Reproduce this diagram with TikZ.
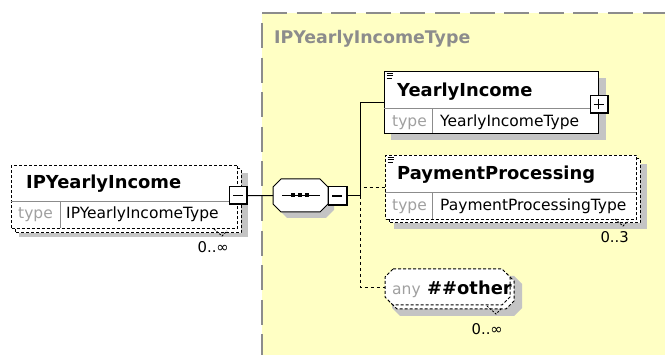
\documentclass[tikz,border=0pt]{standalone}
\usepackage{fontspec}
\setmainfont{DejaVu Sans}
\definecolor{bgyellow}{HTML}{FFFFC4}
\definecolor{framegrey}{HTML}{8C8C8C}
\definecolor{shadowgrey}{HTML}{C4C4C4}
\definecolor{typegrey}{HTML}{A0A0A0}
\definecolor{sepgrey}{HTML}{8C8C8C}
\newcommand\octo[5]{(#1+#5,#2) -- (#3-#5,#2) -- (#3,#2+#5) -- (#3,#4-#5) -- (#3-#5,#4) -- (#1+#5,#4) -- (#1,#4-#5) -- (#1,#2+#5) -- cycle}
\begin{document}
\begin{tikzpicture}[x=1pt,y=-1pt,
  dbox/.style={dash pattern=on 3pt off 2pt, line width=1pt},
  conn/.style={line width=1pt},
  dconn/.style={line width=1pt, dash pattern=on 3pt off 3pt},
  elbox/.style={draw, fill=white, inner sep=0pt, anchor=north west, line width=1pt},
  elname/.style={inner sep=0pt, anchor=base west, font=\bfseries\fontsize{17.9}{20}\selectfont},
  tlabel/.style={inner sep=0pt, anchor=base west, text=typegrey, font=\fontsize{15.5}{18}\selectfont},
  tname/.style={inner sep=0pt, anchor=base west, font=\fontsize{15.5}{18}\selectfont},
  multlbl/.style={inner sep=0pt, anchor=base east, font=\fontsize{14.8}{17}\selectfont},
  sepline/.style={draw=sepgrey, line width=1pt},
  pmbox/.style={draw, fill=white, line width=1pt, minimum size=17pt, inner sep=0pt},
  tick/.style={line width=0.8pt, dash pattern=on 2pt off 1.5pt},
]
\useasboundingbox (0,0) rectangle (665,355);
\fill[white] (0,0) rectangle (665,355);

% complex type area
\fill[bgyellow] (262,13) rectangle (665,355);
\draw[framegrey, line width=1.8pt, dash pattern=on 25pt off 9.6pt] (262,13) -- (666,13);
\draw[framegrey, line width=1.8pt, dash pattern=on 25pt off 9.6pt] (262,23) -- (262,356);
\node[inner sep=0pt, anchor=base west, text=framegrey, font=\bfseries\fontsize{17.4}{20}\selectfont] (ctitle) at (274,44) {IPYearlyIncomeType};

% ---- IPYearlyIncome (0..inf)
\fill[shadowgrey] (19,173) rectangle (248,237);
\draw[dbox, fill=white] (15,169) rectangle (241,233);
\node[elbox, dbox, minimum width=226pt, minimum height=63pt] (ip) at (11,165) {};
\draw[sepline] (11,202) -- (237,202);
\draw[sepline] (60,202) -- (60,228);
\node[elname] (ipname) at (26,189) {IPYearlyIncome};
\node[tlabel] (iptl) at (18,219) {type};
\node[tname] (iptn) at (66,219) {IPYearlyIncomeType};
\draw[tick] (214,229) -- (222,236) -- (227,231);
\node[multlbl] (ipmult) at (229,253) {0..∞};
\node[pmbox] (ipm) at (238,195.5) {};
\draw[line width=2pt] (ipm.north east) -- (ipm.south east) -- (ipm.south west);
\draw[line width=1.2pt] ([xshift=-5pt]ipm.center) -- ([xshift=5pt]ipm.center);

% ---- sequence compositor
\fill[shadowgrey] \octo{279}{185}{334}{218}{8};
\node[inner sep=0pt, minimum width=55pt, minimum height=33pt, anchor=north west] (seq) at (273,179) {};
\draw[line width=1pt, fill=white] \octo{273}{179}{328}{212}{8};
\draw[line width=1pt] (282,195.5) -- (320,195.5);
\fill (290.5,193.5) rectangle (294.5,197.5);
\fill (297.5,193.5) rectangle (301.5,197.5);
\fill (304.5,193.5) rectangle (308.5,197.5);
\node[pmbox, minimum size=18pt] (seqm) at (337,196) {};
\draw[line width=2pt] (seqm.north east) -- (seqm.south east) -- (seqm.south west);
\draw[line width=1.2pt] ([xshift=-5pt]seqm.center) -- ([xshift=5pt]seqm.center);

% ---- YearlyIncome
\fill[shadowgrey] (391,78) rectangle (606,140);
\node[elbox, minimum width=214pt, minimum height=62pt] (yi) at (384,71) {};
\draw[sepline] (384,109) -- (598,109);
\draw[sepline] (432,109) -- (432,133);
\draw[line width=0.9pt] (386.5,73.5) -- (393,73.5) (386.5,75.8) -- (393,75.8) (386.5,78.1) -- (391.5,78.1);
\node[elname] (yiname) at (397,97) {YearlyIncome};
\node[tlabel] (yitl) at (392,127) {type};
\node[tname] (yitn) at (440,127) {YearlyIncomeType};
\node[pmbox] (yip) at (598.5,104.5) {};
\draw[line width=2pt] (yip.north east) -- (yip.south east) -- (yip.south west);
\draw[line width=1.2pt] ([xshift=-5pt]yip.center) -- ([xshift=5pt]yip.center);
\draw[line width=1.2pt] ([yshift=-5pt]yip.center) -- ([yshift=5pt]yip.center);

% ---- PaymentProcessing (0..3)
\fill[shadowgrey] (394,164) rectangle (647,229);
\draw[dbox, fill=white] (389,159) rectangle (640,223);
\node[elbox, dbox, minimum width=251pt, minimum height=64pt] (pp) at (385,155) {};
\draw[sepline] (385,193) -- (636,193);
\draw[sepline] (432,193) -- (432,219);
\draw[line width=0.9pt] (387.5,157.5) -- (394,157.5) (387.5,159.8) -- (394,159.8) (387.5,162.1) -- (392.5,162.1);
\node[elname] (ppname) at (397,180) {PaymentProcessing};
\node[tlabel] (pptl) at (392,211) {type};
\node[tname] (pptn) at (440,211) {PaymentProcessingType};
\draw[tick] (615,219) -- (623,226) -- (628,221);
\node[multlbl] (ppmult) at (629,243) {0..3};

% ---- any ##other (0..inf)
\fill[shadowgrey] \octo{392}{276}{522}{316}{8};
\draw[dbox, fill=white] \octo{389}{273}{514}{309}{8};
\node[inner sep=0pt, minimum width=125pt, minimum height=36pt, anchor=north west] (oth) at (385,269) {};
\draw[dbox, fill=white] \octo{385}{269}{510}{305}{8};
\node[tlabel] (othtl) at (392,295) {any};
\node[elname] (othname) at (427,295) {\#\#other};
\draw[tick] (487,306) -- (496,314) -- (501,309);
\node[multlbl] (othmult) at (503,335) {0..∞};

% ---- connectors
\coordinate (junc) at (360,196);
\draw[conn] (ipm.east) -- (seq.west);
\draw[conn] (seqm.east) -- (junc);
\draw[conn] (junc) |- (yi.west);
\draw[dconn] (junc) |- (pp.west);
\draw[dconn] (junc) |- (oth.west);
\end{tikzpicture}
\end{document}
